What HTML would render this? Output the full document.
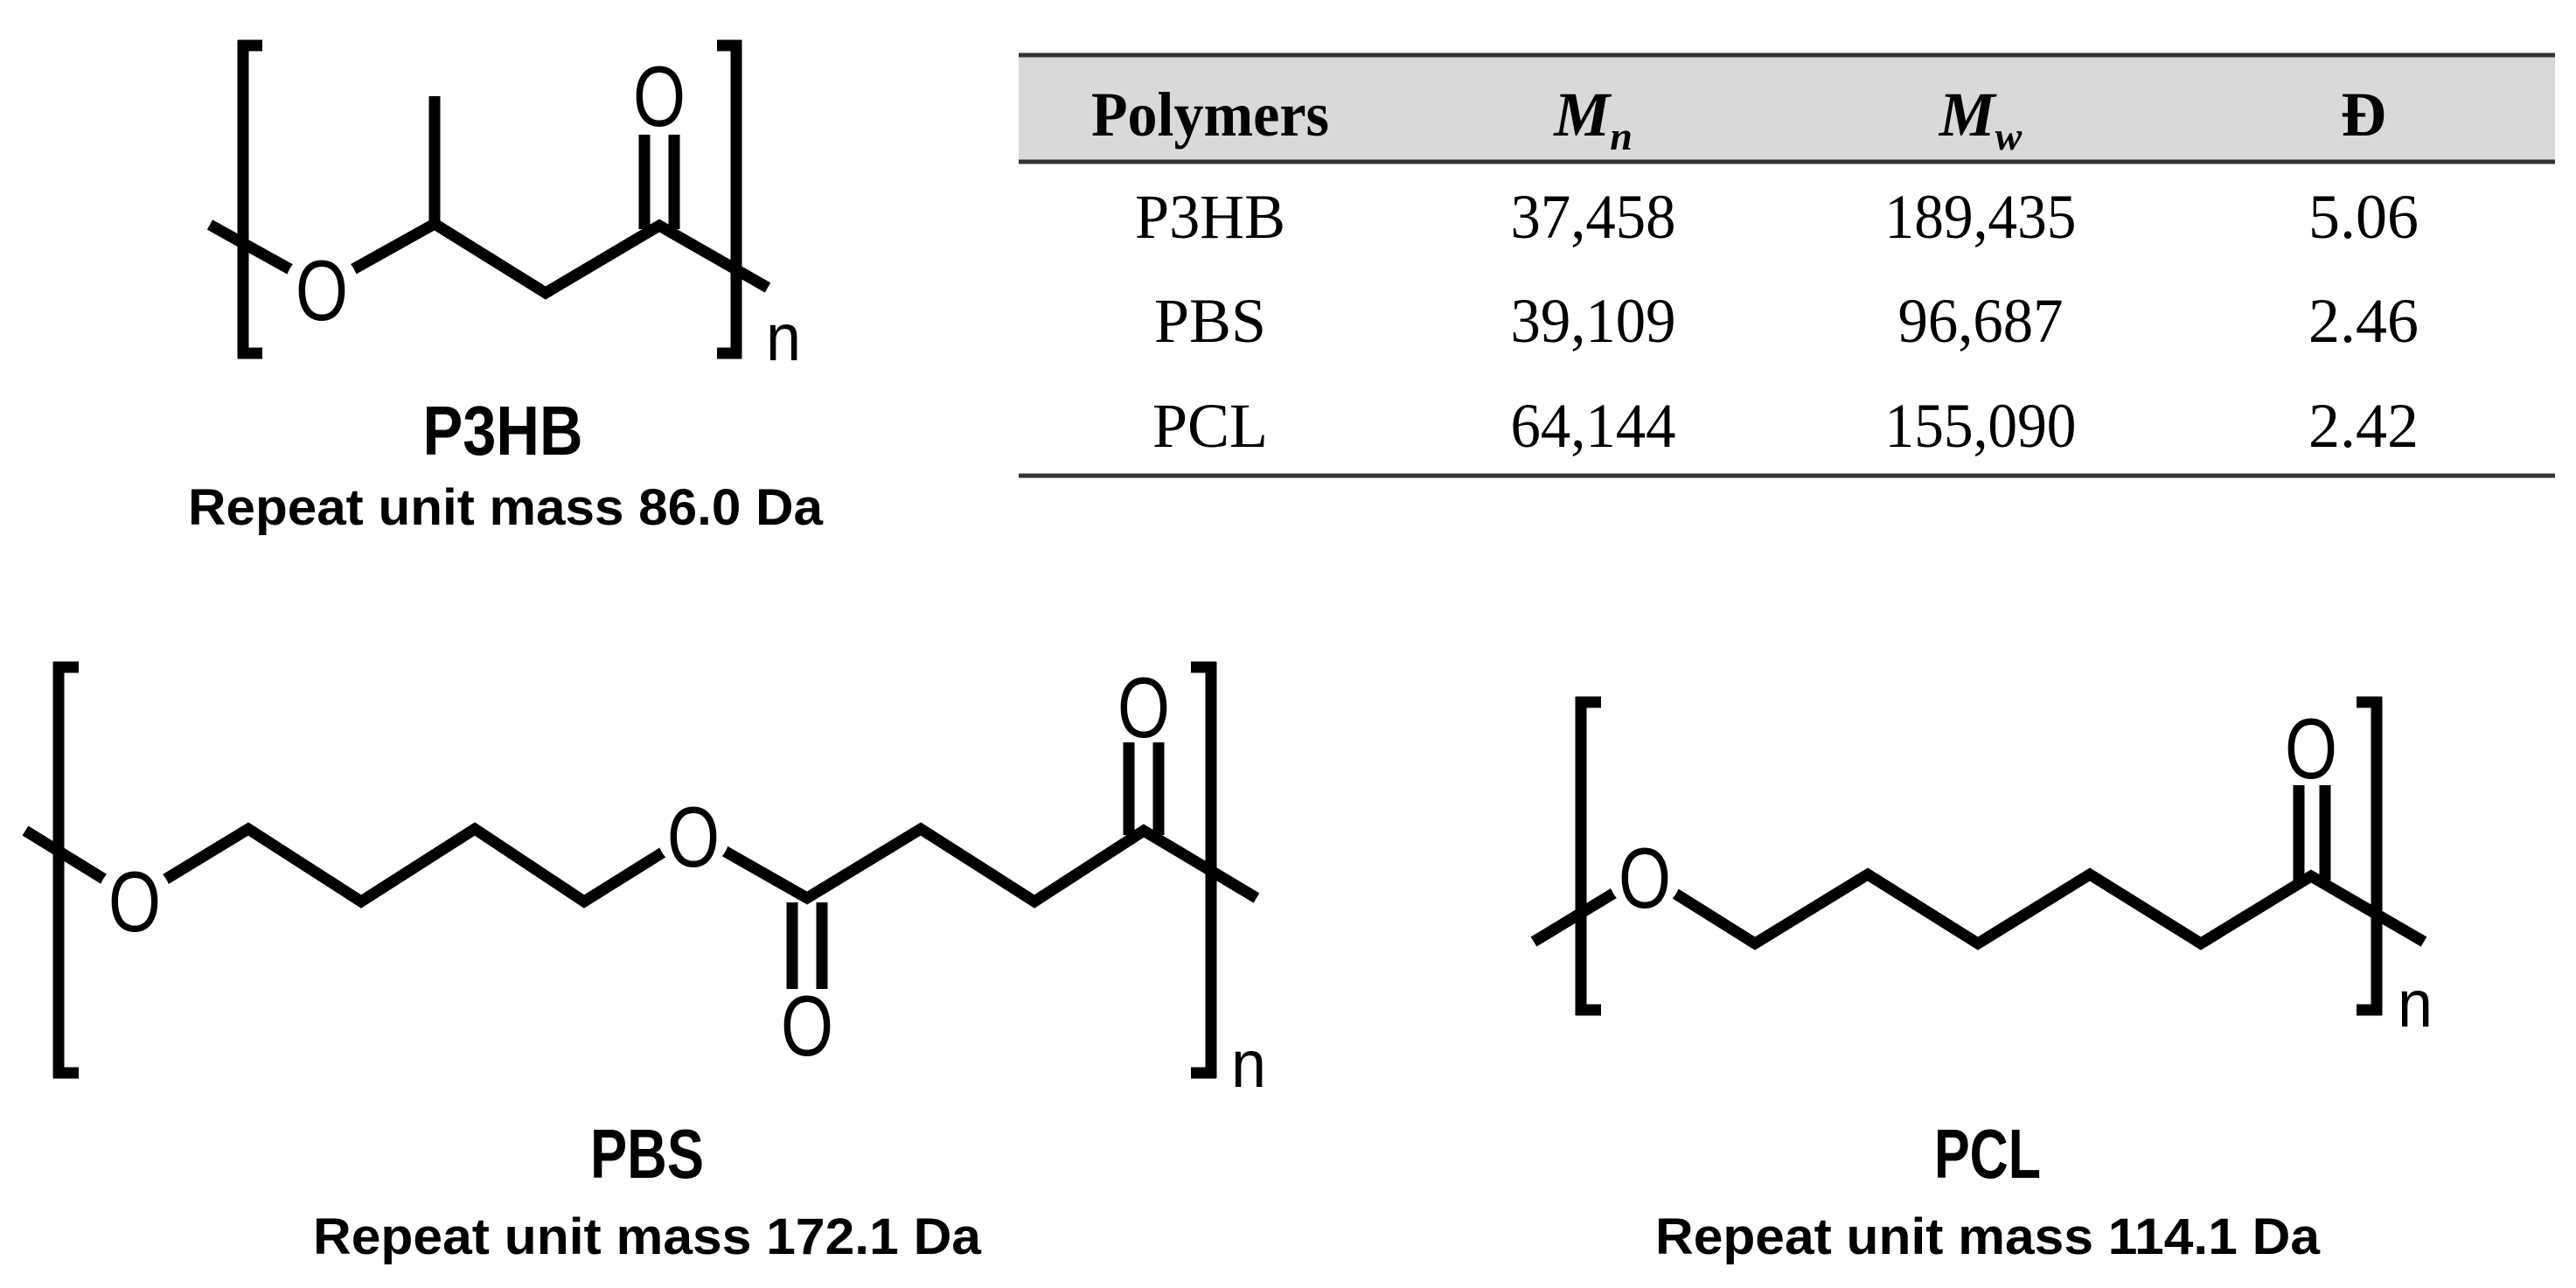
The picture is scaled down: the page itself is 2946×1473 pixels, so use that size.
<!DOCTYPE html>
<html><head><meta charset="utf-8"><style>html,body{margin:0;padding:0;background:#fff}svg{display:block}</style></head>
<body>
<svg width="2946" height="1473" viewBox="0 0 2946 1473" xmlns="http://www.w3.org/2000/svg">
<g stroke="#000" stroke-width="13" fill="none" stroke-linejoin="miter" stroke-linecap="butt">
<path d="M278 46V410 M272 52H300 M272 404H300"/>
<path d="M842 46V410 M848 52H820 M848 404H820"/>
<polyline points="240,257 368,328 497,256 624,335 754,258 878,329"/>
<path d="M497 256V110 M737 262V154 M771 262V154"/>
<path d="M67 757V1233 M61 763H90 M61 1227H90"/>
<path d="M1385 757V1233 M1391 763H1362 M1391 1227H1362"/>
<polyline points="29,950 154,1027 284,948 413,1031 543,948 668,1031 793,953 923,1027 1053,948 1183,1031 1308,950 1437,1027"/>
<path d="M906 1032V1131 M940 1032V1131 M1291 955V849 M1325 955V849"/>
<path d="M1808 797V1161 M1802 803H1831 M1802 1155H1831"/>
<path d="M2718 797V1161 M2724 803H2695 M2724 1155H2695"/>
<polyline points="1754,1077 1881,1000 2007,1079 2136,1000 2262,1079 2390,1000 2517,1079 2643,1002 2772,1077"/>
<path d="M2629 1007V898 M2659 1007V898"/>
</g>
<g fill="#fff">
<circle cx="368" cy="328" r="42"/>
<circle cx="154" cy="1027" r="42"/>
<circle cx="793" cy="953" r="42"/>
<circle cx="1881" cy="1000" r="42"/>
</g>
<g font-family="Liberation Sans, sans-serif" font-size="98" text-anchor="middle" dominant-baseline="central" fill="#000">
<text x="368" y="332" textLength="60" lengthAdjust="spacingAndGlyphs">O</text>
<text x="754" y="110" textLength="60" lengthAdjust="spacingAndGlyphs">O</text>
<text x="154" y="1031" textLength="60" lengthAdjust="spacingAndGlyphs">O</text>
<text x="793" y="957" textLength="60" lengthAdjust="spacingAndGlyphs">O</text>
<text x="923" y="1173" textLength="60" lengthAdjust="spacingAndGlyphs">O</text>
<text x="1308" y="809" textLength="60" lengthAdjust="spacingAndGlyphs">O</text>
<text x="1881" y="1004" textLength="60" lengthAdjust="spacingAndGlyphs">O</text>
<text x="2643" y="856" textLength="60" lengthAdjust="spacingAndGlyphs">O</text>
</g>
<g font-family="Liberation Sans, sans-serif" font-size="76" fill="#000">
<text x="876" y="412" textLength="40" lengthAdjust="spacingAndGlyphs">n</text>
<text x="1408" y="1243" textLength="40" lengthAdjust="spacingAndGlyphs">n</text>
<text x="2742" y="1174" textLength="40" lengthAdjust="spacingAndGlyphs">n</text>
</g>
<g font-family="Liberation Sans, sans-serif" font-weight="bold" text-anchor="middle" fill="#000">
<text x="575" y="520" font-size="80" textLength="183" lengthAdjust="spacingAndGlyphs">P3HB</text>
<text x="578" y="600" font-size="58" textLength="726" lengthAdjust="spacingAndGlyphs">Repeat unit mass 86.0 Da</text>
<text x="740" y="1347" font-size="80" textLength="130" lengthAdjust="spacingAndGlyphs">PBS</text>
<text x="740" y="1434" font-size="58" textLength="764" lengthAdjust="spacingAndGlyphs">Repeat unit mass 172.1 Da</text>
<text x="2273" y="1347" font-size="80" textLength="122" lengthAdjust="spacingAndGlyphs">PCL</text>
<text x="2273" y="1434" font-size="58" textLength="760" lengthAdjust="spacingAndGlyphs">Repeat unit mass 114.1 Da</text>
</g>
<rect x="1165" y="63" width="1757" height="122" fill="#d9d9d9"/>
<g stroke="#333" stroke-width="5">
<line x1="1165" y1="63" x2="2922" y2="63"/>
<line x1="1165" y1="185" x2="2922" y2="185"/>
<line x1="1165" y1="544" x2="2922" y2="544"/>
</g>
<g font-family="Liberation Serif, serif" font-size="72" text-anchor="middle" fill="#000">
<text x="1384" y="155" font-weight="bold" textLength="272" lengthAdjust="spacingAndGlyphs">Polymers</text>
<text x="1822" y="155" font-weight="bold" font-style="italic">M<tspan font-size="46" dy="16">n</tspan></text>
<text x="2265" y="155" font-weight="bold" font-style="italic">M<tspan font-size="46" dy="16">w</tspan></text>
<text x="2703" y="155" font-weight="bold">Đ</text>
<text x="1384" y="272" textLength="172" lengthAdjust="spacingAndGlyphs">P3HB</text><text x="1822" y="272" textLength="189" lengthAdjust="spacingAndGlyphs">37,458</text><text x="2265" y="272" textLength="219" lengthAdjust="spacingAndGlyphs">189,435</text><text x="2703" y="272">5.06</text>
<text x="1384" y="391">PBS</text><text x="1822" y="391" textLength="189" lengthAdjust="spacingAndGlyphs">39,109</text><text x="2265" y="391" textLength="189" lengthAdjust="spacingAndGlyphs">96,687</text><text x="2703" y="391">2.46</text>
<text x="1384" y="511">PCL</text><text x="1822" y="511" textLength="189" lengthAdjust="spacingAndGlyphs">64,144</text><text x="2265" y="511" textLength="219" lengthAdjust="spacingAndGlyphs">155,090</text><text x="2703" y="511">2.42</text>
</g>
</svg>
</body></html>
